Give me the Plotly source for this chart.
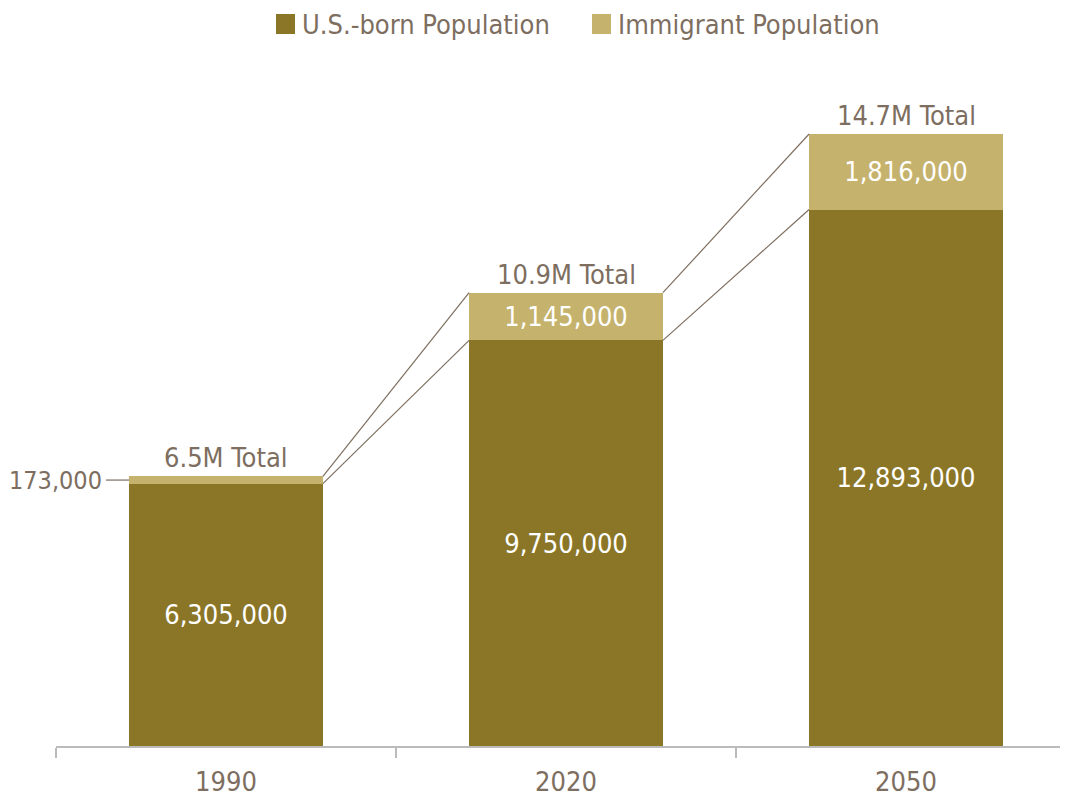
import plotly.graph_objects as go

years = ["1990", "2020", "2050"]
us_born = [6305000, 9750000, 12893000]
immigrant = [173000, 1145000, 1816000]
series_names = ["U.S.-born Population", "Immigrant Population"]

DARK = "#8B7628"
LIGHT = "#C5B26C"
TXT = "#7D6E5F"
FONT = "DejaVu Sans Condensed, Liberation Sans Narrow, sans-serif"
FS = 27
BW = 0.57

totals = [a + b for a, b in zip(us_born, immigrant)]

def fmt(v):
    return f"{v:,}"

fig = go.Figure()
fig.add_bar(x=years, y=us_born, name=series_names[0], marker=dict(color=DARK, line=dict(width=0)),
            width=BW, text=[fmt(v) for v in us_born], textposition="inside",
            insidetextanchor="middle", constraintext="none",
            textfont=dict(color="white", size=FS, family=FONT), showlegend=False, hoverinfo="skip")
imm_text = [fmt(v) if i > 0 else "" for i, v in enumerate(immigrant)]
fig.add_bar(x=years, y=immigrant, name=series_names[1], marker=dict(color=LIGHT, line=dict(width=0)),
            width=BW, text=imm_text, textposition="inside",
            insidetextanchor="middle", constraintext="none",
            textfont=dict(color="white", size=FS, family=FONT), showlegend=False, hoverinfo="skip")

# connector lines
for i in range(len(years) - 1):
    for ya, yb in ((totals[i], totals[i + 1]), (us_born[i], us_born[i + 1])):
        fig.add_shape(type="line", xref="x", yref="y", x0=i + BW / 2, x1=i + 1 - BW / 2,
                      y0=ya, y1=yb, line=dict(color=TXT, width=1.2))

# total labels
for i, t in enumerate(totals):
    fig.add_annotation(x=i, y=t, xref="x", yref="y", text=f"{t/1e6:.1f}M Total", showarrow=False,
                       yanchor="bottom", yshift=1, font=dict(color=TXT, size=FS, family=FONT))

# small immigrant label for 1990
y_mid = us_born[0] + immigrant[0] / 2
fig.add_shape(type="line", xref="x", yref="y", x0=-BW / 2 - 0.068, x1=-BW / 2, y0=y_mid, y1=y_mid,
              line=dict(color=TXT, width=1.2))
fig.add_annotation(x=-BW / 2 - 0.074, y=y_mid, xref="x", yref="y", text=fmt(immigrant[0]), showarrow=False,
                   xanchor="right", yanchor="middle", font=dict(color=TXT, size=25, family=FONT))

# custom legend (page has an 8px body margin, so figure coords are offset by 8)
W, H = 1068, 798
L, R, T, B = 48, 0, 52, 60
pw, ph = W - L - R, H - T - B
def px(x): return (x - L) / pw
def py(y): return (H - B - y) / ph
legend_items = [(series_names[0], DARK, 268), (series_names[1], LIGHT, 584)]
for name, col, x0 in legend_items:
    fig.add_shape(type="rect", xref="paper", yref="paper", x0=px(x0), x1=px(x0 + 19),
                  y0=py(26), y1=py(6), fillcolor=col, line=dict(width=0))
    fig.add_annotation(x=px(x0 + 24), y=py(16), xref="paper", yref="paper", text=name, showarrow=False,
                       xanchor="left", yanchor="middle", font=dict(color=TXT, size=FS, family=FONT))

fig.update_layout(
    barmode="stack", width=W, height=H,
    margin=dict(l=L, r=R, t=T, b=B),
    plot_bgcolor="white", paper_bgcolor="white",
    showlegend=False,
    xaxis=dict(type="category", range=[-0.5, -0.5 + pw / 340], showgrid=False,
               showline=True, linecolor="#BBBBBB", linewidth=1.5,
               ticks="outside", tickson="boundaries", ticklen=10, tickcolor="#BBBBBB", tickwidth=1.5,
               ticklabelstandoff=11,
               tickfont=dict(color=TXT, size=FS, family=FONT)),
    yaxis=dict(range=[0, ph / (612 / 14709000)], visible=False),
)

fig.write_html("out.html")
